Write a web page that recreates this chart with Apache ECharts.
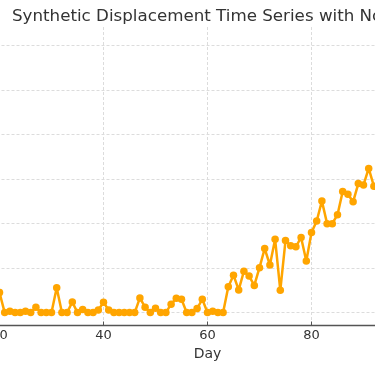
<!DOCTYPE html>
<html>
<head>
<meta charset="utf-8">
<script src="https://cdn.jsdelivr.net/npm/echarts@6/dist/echarts.min.js"></script>
<style>html,body{margin:0;padding:0;background:#fff}#c{width:375px;height:366px}</style>
</head>
<body>
<div id="c"></div>
<script>
// Visible portion of the series (days 20..92)
var days = [20,21,22,23,24,25,26,27,28,29,30,31,32,33,34,35,36,37,38,39,40,
  41,42,43,44,45,46,47,48,49,50,51,52,53,54,55,56,57,58,59,60,
  61,62,63,64,65,66,67,68,69,70,71,72,73,74,75,76,77,78,79,80,
  81,82,83,84,85,86,87,88,89,90,91,92];
var displacement = [0.45,0.00,0.03,0.00,0.00,0.03,0.00,0.12,0.00,0.00,0.00,0.56,0.00,0.00,0.24,0.00,0.07,0.00,0.00,0.06,0.23,
  0.06,0.00,0.00,0.00,0.00,0.00,0.33,0.12,0.00,0.10,0.00,0.00,0.19,0.32,0.30,0.00,0.00,0.09,0.30,0.00,
  0.03,0.00,0.00,0.58,0.84,0.51,0.93,0.82,0.61,1.01,1.44,1.07,1.65,0.50,1.62,1.50,1.48,1.69,1.16,1.80,
  2.06,2.51,2.00,2.00,2.20,2.72,2.66,2.49,2.90,2.87,3.24,2.84];
var yGridValues = [0,1,2,3,4,5,6];
var titleText = 'Synthetic Displacement Time Series with Noise';
var xName = 'Day';

var points = days.map(function(d,i){return [d, displacement[i]];});
var chart = echarts.init(document.getElementById('c'));
chart.setOption({
  animation: false,
  backgroundColor: '#fff',
  title: {
    text: titleText, left: 7, top: 3,
    textStyle: {fontFamily: 'DejaVu Sans', fontSize: 16.7, fontWeight: 'normal', color: '#333'}
  },
  grid: {left: -208.5, right: -248.5, top: 27, bottom: 40.5, containLabel: false, outerBoundsMode: 'none'},
  xAxis: {
    type: 'value', min: -20, max: 140, interval: 20,
    name: xName, nameLocation: 'middle', nameGap: 16,
    nameTextStyle: {fontFamily: 'DejaVu Sans', fontSize: 14, color: '#333'},
    axisLine: {show: true, onZero: false, lineStyle: {color: '#555', width: 1.3}},
    axisTick: {show: true, inside: true, length: 4, lineStyle: {color: '#555'}},
    axisLabel: {margin: 4, fontFamily: 'DejaVu Sans', fontSize: 13, color: '#333'},
    splitLine: {show: true, lineStyle: {color: '#dcdcdc', type: [3, 2], width: 1}}
  },
  yAxis: {
    type: 'value', min: -0.29, max: 6.42,
    axisLine: {show: false}, axisTick: {show: false}, axisLabel: {show: false},
    splitLine: {show: false}
  },
  series: [{
    type: 'line', data: points, clip: false,
    symbol: 'circle', symbolSize: 7.5, showSymbol: true,
    itemStyle: {color: '#ffa500'},
    lineStyle: {color: '#ffa500', width: 2.5},
    z: 3,
    markLine: {
      silent: true, symbol: ['none','none'], z: 1,
      label: {show: false},
      lineStyle: {color: '#dcdcdc', type: [3, 2], width: 1},
      data: yGridValues.map(function(v){return {yAxis: v};})
    }
  }]
});
</script>
</body>
</html>
